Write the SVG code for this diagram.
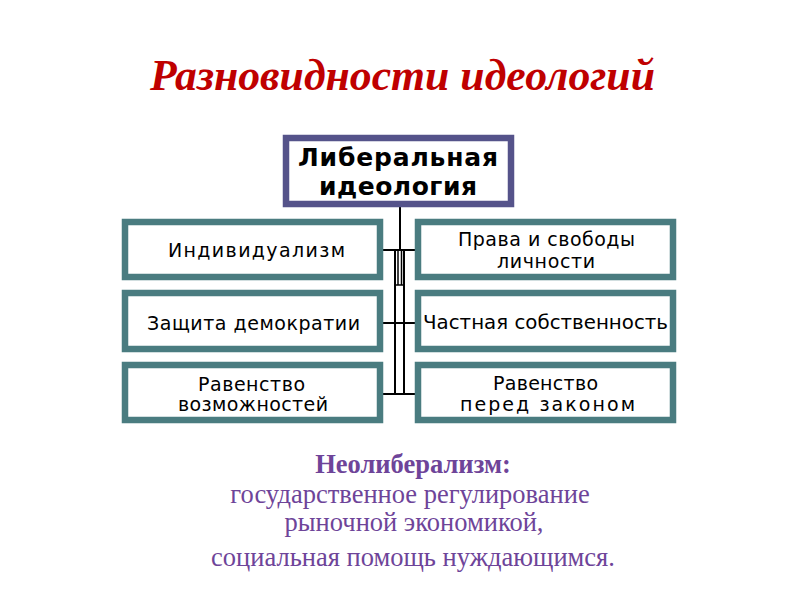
<svg xmlns="http://www.w3.org/2000/svg" width="800" height="600" viewBox="0 0 800 600">
<style>
.box{fill:#fff;stroke:#4a7c80;stroke-width:6.5}
.top{fill:#fff;stroke:#55538a;stroke-width:6.5}
.t{font-family:"DejaVu Sans",sans-serif;font-size:19px;fill:#000}
.tb{font-family:"DejaVu Sans",sans-serif;font-size:25px;font-weight:bold;fill:#000}
.c{stroke:#000;stroke-width:2;fill:none}
.ci{stroke:#000;stroke-width:1.5;fill:none}
.b{font-family:"Liberation Serif",serif;font-size:26.5px;fill:#6e4499;text-anchor:middle}
</style>
<rect width="800" height="600" fill="#fff"/>
<text x="150" y="90" textLength="505" lengthAdjust="spacingAndGlyphs" font-family="Liberation Serif,serif" font-size="44" font-weight="bold" font-style="italic" fill="#bf0000">Разновидности идеологий</text>
<g id="connectors">
<line class="c" x1="400" y1="207" x2="400" y2="250"/>
<line class="c" x1="383" y1="250" x2="415" y2="250"/>
<line class="c" x1="395" y1="250" x2="395" y2="394"/>
<line class="c" x1="404" y1="250" x2="404" y2="394"/>
<line class="ci" x1="398" y1="250" x2="398" y2="285"/>
<line class="ci" x1="401.5" y1="250" x2="401.5" y2="285"/>
<line class="ci" x1="395" y1="285" x2="404" y2="285"/>
<line class="c" x1="383" y1="323" x2="415" y2="323"/>
<line class="c" x1="383" y1="394" x2="415" y2="394"/>
</g>
<g id="liberal">
<rect class="top" x="286" y="138" width="225" height="66"/>
<text class="tb" x="298" y="166" textLength="200">Либеральная</text>
<text class="tb" x="319" y="195" textLength="158">идеология</text>
</g>
<g id="individualism">
<rect class="box" x="125" y="222" width="255" height="55"/>
<text class="t" x="168" y="257" textLength="177">Индивидуализм</text>
</g>
<g id="democracy">
<rect class="box" x="125" y="293" width="255" height="56"/>
<text class="t" x="147" y="330" textLength="213">Защита демократии</text>
</g>
<g id="opportunities">
<rect class="box" x="125" y="365" width="255" height="55"/>
<text class="t" x="198" y="391" textLength="107">Равенство</text>
<text class="t" x="178" y="411" textLength="150">возможностей</text>
</g>
<g id="rights">
<rect class="box" x="418" y="222" width="255" height="55"/>
<text class="t" x="458" y="246" textLength="177">Права и свободы</text>
<text class="t" x="497" y="268" textLength="98">личности</text>
</g>
<g id="property">
<rect class="box" x="418" y="293" width="255" height="56"/>
<text class="t" x="423" y="329" textLength="245" lengthAdjust="spacingAndGlyphs">Частная собственность</text>
</g>
<g id="law">
<rect class="box" x="418" y="365" width="255" height="55"/>
<text class="t" x="493" y="390" textLength="105">Равенство</text>
<text class="t" x="460" y="411" textLength="175">перед законом</text>
</g>
<text class="b" x="413" y="473" font-weight="bold">Неолиберализм:</text>
<text class="b" x="410" y="503">государственное регулирование</text>
<text class="b" x="414" y="531">рыночной экономикой,</text>
<text class="b" x="413" y="566">социальная помощь нуждающимся.</text>
</svg>
